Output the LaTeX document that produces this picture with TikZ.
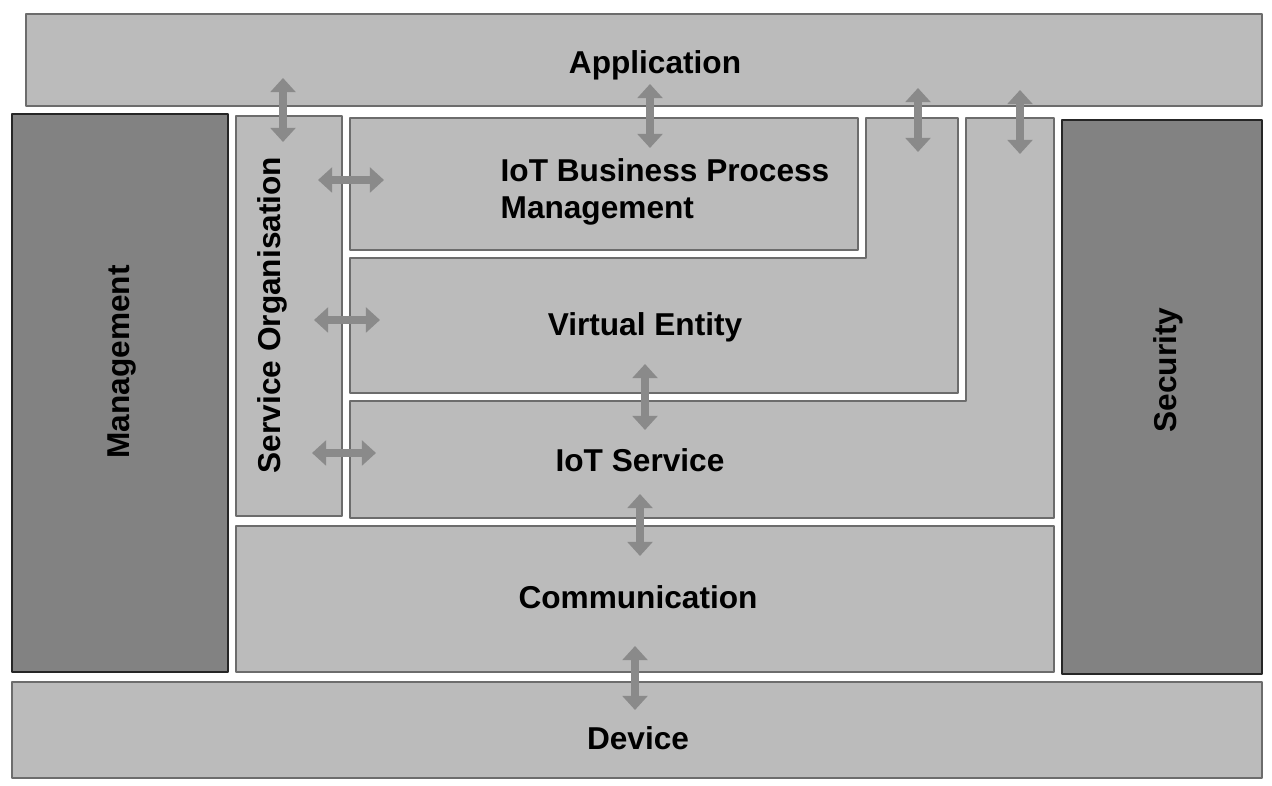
\documentclass[tikz,border=0pt]{standalone}
\usepackage{fontspec}
\setmainfont{Liberation Sans}
\usetikzlibrary{arrows.meta}
\definecolor{panelgray}{HTML}{BBBBBB}
\definecolor{sidegray}{HTML}{828282}
\definecolor{edgegray}{HTML}{6C6C6C}
\definecolor{arrowgray}{HTML}{8A8A8A}

\begin{document}
\begin{tikzpicture}[x=0.02cm, y=-0.02cm, line join=round,
  panel/.style={fill=panelgray, draw=edgegray, line width=0.8pt},
  sidepanel/.style={fill=sidegray, draw=black!85, line width=1.2pt},
  label/.style={font=\fontsize{18}{21}\selectfont\bfseries, text=black, align=left},
  biarrow/.style={arrowgray, line width=5pt,
    {Triangle[width=14pt,length=8pt]}-{Triangle[width=14pt,length=8pt]}}]

\useasboundingbox[fill=white] (0,0) rectangle (1272,786);

% Layers across the whole width

\draw[panel] (26,14) rectangle (1262,106);
\node[label] (app) at (655,65) {Application};

\draw[panel] (12,682) rectangle (1262,778);
\node[label] (dev) at (638,738) {Device};

% Side bars

\draw[sidepanel] (12,114) rectangle (228,672);
\node[label, rotate=90] (mgmt) at (122,362) {Management};

\draw[sidepanel] (1062,120) rectangle (1262,674);
\node[label, rotate=90] (sec) at (1168,370) {Security};

% Middle block

\draw[panel] (236,116) rectangle (342,516);
\node[label, rotate=90] (serv) at (272,315) {Service Organisation};

\draw[panel] (350,118) rectangle (858,250);
\node[label] (bpm) at (665,192) {IoT Business Process\\Management};

\draw[panel] (866,118) -- (958,118) -- (958,393) -- (350,393)
  -- (350,258) -- (866,258) -- cycle;
\node[label] (ve) at (645,327) {Virtual Entity};

\draw[panel] (966,118) -- (1054,118) -- (1054,518) -- (350,518)
  -- (350,401) -- (966,401) -- cycle;
\node[label] (ios) at (640,460) {IoT Service};

\draw[panel] (236,526) rectangle (1054,672);
\node[label] (comm) at (638,597) {Communication};

% Interfaces

\coordinate (so top) at (283,78);   \coordinate (so bot) at (283,142);
\coordinate (bp top) at (650,84);   \coordinate (bp bot) at (650,148);
\coordinate (ve top) at (918,88);   \coordinate (ve bot) at (918,152);
\coordinate (is top) at (1020,90);  \coordinate (is bot) at (1020,154);
\coordinate (sb l) at (318,180);    \coordinate (sb r) at (384,180);
\coordinate (sv l) at (314,320);    \coordinate (sv r) at (380,320);
\coordinate (si l) at (312,453);    \coordinate (si r) at (376,453);
\coordinate (vi top) at (645,364);  \coordinate (vi bot) at (645,430);
\coordinate (ic top) at (640,494);  \coordinate (ic bot) at (640,556);
\coordinate (cd top) at (635,646);  \coordinate (cd bot) at (635,710);

\draw[biarrow] (so top) -- (so bot);
\draw[biarrow] (bp top) -- (bp bot);
\draw[biarrow] (ve top) -- (ve bot);
\draw[biarrow] (is top) -- (is bot);
\draw[biarrow] (sb l) -- (sb r);
\draw[biarrow] (sv l) -- (sv r);
\draw[biarrow] (si l) -- (si r);
\draw[biarrow] (vi top) -- (vi bot);
\draw[biarrow] (ic top) -- (ic bot);
\draw[biarrow] (cd top) -- (cd bot);

\end{tikzpicture}
\end{document}
